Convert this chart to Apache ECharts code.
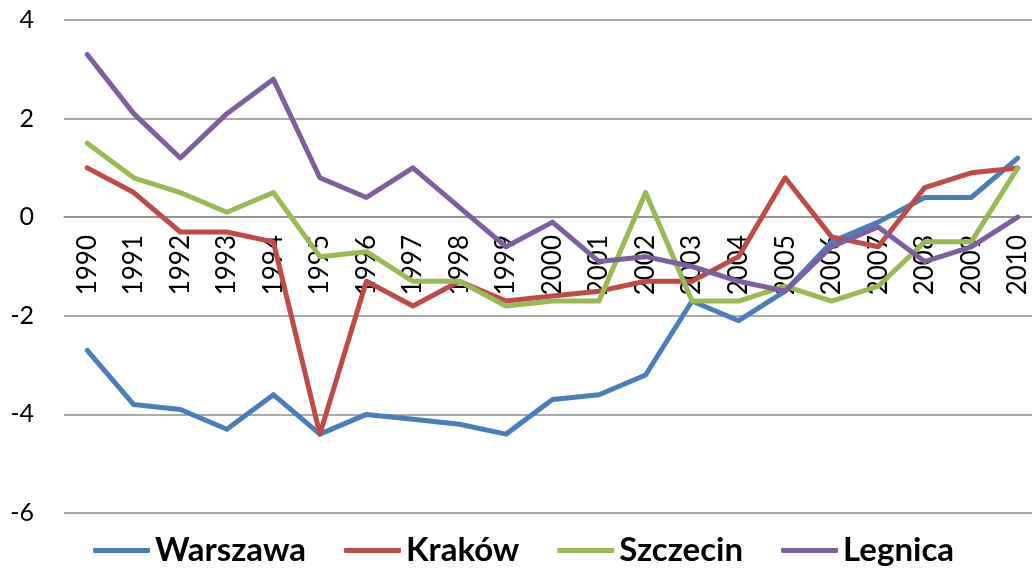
<!DOCTYPE html>
<html>
<head>
<meta charset="utf-8">
<script src="https://cdn.jsdelivr.net/npm/echarts@6/dist/echarts.min.js"></script>
<style>
html, body { margin: 0; padding: 0; background: #fff; }
#chart { width: 1032px; height: 573px; }
</style>
</head>
<body>
<div id="chart"></div>
<script>
// lata
var years = ['1990','1991','1992','1993','1994','1995','1996','1997','1998','1999','2000',
	'2001','2002','2003','2004','2005','2006','2007','2008','2009','2010'];

var warszawa = [-2.7, -3.8, -3.9, -4.3, -3.6, -4.4, -4.0, -4.1, -4.2, -4.4, -3.7,
	-3.6, -3.2, -1.7, -2.1, -1.5, -0.5, -0.1, 0.4, 0.4, 1.2];
var krakow = [1.0, 0.5, -0.3, -0.3, -0.5, -4.4, -1.3, -1.8, -1.3, -1.7, -1.6,
	-1.5, -1.3, -1.3, -0.8, 0.8, -0.4, -0.6, 0.6, 0.9, 1.0];
var szczecin = [1.5, 0.8, 0.5, 0.1, 0.5, -0.8, -0.7, -1.3, -1.3, -1.8, -1.7,
	-1.7, 0.5, -1.7, -1.7, -1.4, -1.7, -1.4, -0.5, -0.5, 1.0];
var legnica = [3.3, 2.1, 1.2, 2.1, 2.8, 0.8, 0.4, 1.0, 0.2, -0.6, -0.1,
	-0.9, -0.8, -1.0, -1.3, -1.5, -0.6, -0.2, -0.9, -0.6, 0.0];

var seriesNames = ['Warszawa', 'Kraków', 'Szczecin', 'Legnica'];
var seriesData = [warszawa, krakow, szczecin, legnica];
var colors = ['#4a7ebb', '#be4b48', '#98b954', '#7d5fa0'];

var myChart = echarts.init(document.getElementById('chart'), null, {renderer: 'canvas'});

var series = [];
for (var i = 0; i < seriesNames.length; i++) {
	series.push({
		name: seriesNames[i],
		type: 'line',
		data: seriesData[i],
		symbol: 'none',
		color: colors[i],
		lineStyle: {
			width: 5,
			color: colors[i],
			cap: 'round',
			join: 'round'
		}
	});
}

var option = {
	animation: false,
	backgroundColor: '#fff',
	grid: {
		left: 64,
		right: -9,
		top: 20,
		bottom: 60,
		outerBoundsMode: 'none'
	},
	legend: {
		bottom: 1,
		left: 88,
		icon: 'roundRect',
		itemWidth: 57,
		itemHeight: 5,
		itemGap: 38,
		data: seriesNames,
		textStyle: {
			fontFamily: 'Lato',
			fontWeight: 'bold',
			fontSize: 33,
			color: '#000'
		}
	},
	xAxis: {
		type: 'category',
		data: years,
		boundaryGap: true,
		position: 'bottom',
		// oś X leży na linii 0
		offset: -296,
		axisLine: {
			show: true,
			onZero: false,
			lineStyle: { color: '#8e8e8e', width: 1.5 }
		},
		axisTick: { show: false },
		axisLabel: {
			rotate: 90,
			margin: 18,
			fontFamily: 'Lato',
			fontSize: 26,
			color: '#000',
			interval: 0
		}
	},
	yAxis: {
		type: 'value',
		min: -6,
		max: 4,
		interval: 2,
		axisLine: { show: false },
		axisTick: { show: false },
		axisLabel: {
			margin: 30,
			fontFamily: 'Lato',
			fontSize: 25,
			color: '#000'
		},
		splitLine: {
			lineStyle: { color: '#8e8e8e', width: 1.5 }
		}
	},
	series: series
};
myChart.setOption(option);
</script>
</body>
</html>
